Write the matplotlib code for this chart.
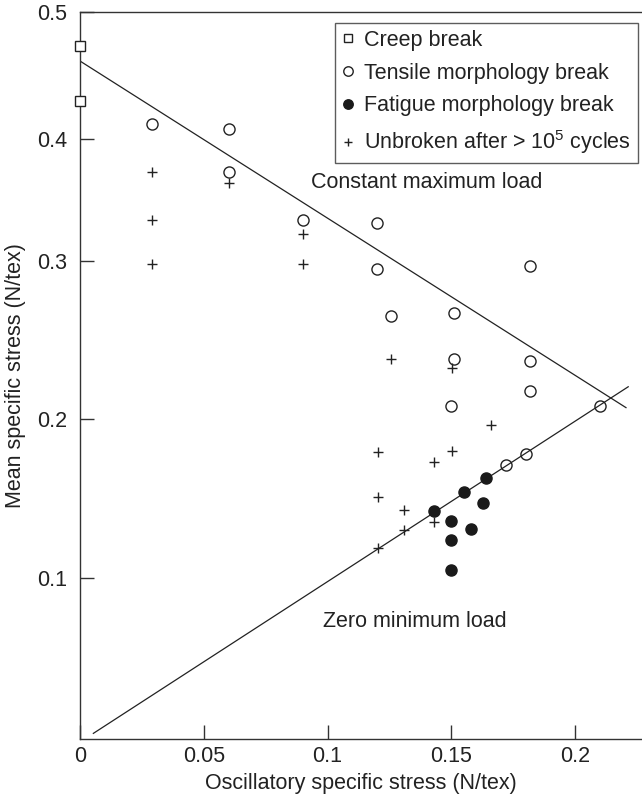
import numpy as np
import matplotlib
matplotlib.use('Agg')
import matplotlib.pyplot as plt

plt.rcParams['font.family'] = ['Liberation Sans', 'DejaVu Sans']
plt.rcParams['mathtext.fontset'] = 'custom'
plt.rcParams['mathtext.rm'] = 'Liberation Sans'
plt.rcParams['mathtext.default'] = 'regular'

# data (oscillatory stress, mean stress), N/tex
creep_x = [0.0, 0.0]
creep_y = [0.473, 0.430]

tensile_x = [0.029, 0.060, 0.060, 0.090, 0.120, 0.120, 0.1255, 0.151, 0.182,
             0.151, 0.182, 0.182, 0.150, 0.210, 0.180, 0.172]
tensile_y = [0.412, 0.408, 0.373, 0.334, 0.331, 0.295, 0.265, 0.267, 0.297,
             0.238, 0.237, 0.218, 0.208, 0.208, 0.178, 0.171]

fatigue_x = [0.143, 0.155, 0.164, 0.163, 0.150, 0.158, 0.150, 0.150]
fatigue_y = [0.142, 0.154, 0.163, 0.147, 0.136, 0.131, 0.124, 0.105]

unbroken_x = [0.029, 0.029, 0.029, 0.060, 0.090, 0.090, 0.1255, 0.1505, 0.166,
              0.1205, 0.143, 0.1505, 0.1205, 0.131, 0.131, 0.143, 0.1205]
unbroken_y = [0.373, 0.334, 0.298, 0.364, 0.322, 0.298, 0.238, 0.232, 0.196,
              0.179, 0.173, 0.180, 0.151, 0.143, 0.130, 0.135, 0.119]

# guide lines (end points)
max_load_x = [0.0, 0.2206]
max_load_y = [0.4614, 0.2072]
min_load_x = [0.0054, 0.2215]
min_load_y = [0.0035, 0.2204]

x_ticks = [0, 0.05, 0.1, 0.15, 0.2]
y_ticks = [0.1, 0.2, 0.3, 0.4, 0.5]

# the printed y axis is not evenly spaced; reproduce its spacing
y_knots = [0.0, 0.1, 0.2, 0.3, 0.4, 0.5]
y_knot_pos = [0.0, 161.0, 320.0, 478.0, 600.0, 727.0]


def y_forward(v):
    return np.interp(v, y_knots, y_knot_pos)


def y_inverse(p):
    return np.interp(p, y_knot_pos, y_knots)


txt = '#222222'
fs = 15.5
fig = plt.figure(figsize=(6.42, 7.94), dpi=100)
ax = fig.add_axes([80/642, 55/794, 562/642, 727/794])
ax.set_yscale('function', functions=(y_forward, y_inverse))

ax.plot(max_load_x, max_load_y, color='#222222', lw=0.9, zorder=1)
ax.plot(min_load_x, min_load_y, color='#222222', lw=0.9, zorder=1)

ax.plot(creep_x, creep_y, ls='none', marker='s', ms=6.5, mfc='white',
        mec='#222222', mew=1.0, clip_on=False, label='Creep break', zorder=3)
ax.plot(tensile_x, tensile_y, ls='none', marker='o', ms=8, mfc='none',
        mec='#222222', mew=1.0, label='Tensile morphology break', zorder=3)
ax.plot(fatigue_x, fatigue_y, ls='none', marker='o', ms=8, mfc='#1a1a1a',
        mec='#1a1a1a', label='Fatigue morphology break', zorder=3)
ax.plot(unbroken_x, unbroken_y, ls='none', marker='+', ms=7.5,
        mec='#222222', mew=1.0, label='Unbroken after > 10$^5$ cycles', zorder=3)

ax.text(0.0933, 0.364, 'Constant maximum load', fontsize=fs, color=txt,
        ha='left', va='center')
ax.text(0.0982, 0.0729, 'Zero minimum load', fontsize=fs, color=txt,
        ha='left', va='center')

ax.set_xlim(0, 562/2475)
ax.set_ylim(0, 0.5)
ax.set_xticks(x_ticks)
ax.set_xticklabels(['%g' % t for t in x_ticks])
ax.set_yticks(y_ticks)
ax.set_yticklabels(['%g' % t for t in y_ticks])
ax.minorticks_off()
ax.tick_params(direction='in', length=10, width=1.0, color='#333333',
               labelsize=fs, labelcolor=txt)
ax.tick_params(axis='x', pad=5)
ax.tick_params(axis='y', pad=9)
for s in ['left', 'bottom', 'top']:
    ax.spines[s].set_color('#333333')
    ax.spines[s].set_linewidth(1.0)
ax.spines['right'].set_visible(False)

ax.set_xlabel('Oscillatory specific stress (N/tex)', fontsize=fs, color=txt,
              labelpad=4)
ax.set_ylabel('Mean specific stress (N/tex)', fontsize=fs, color=txt,
              labelpad=8)

leg = ax.legend(loc='upper right', bbox_to_anchor=(0.992, 0.985), fontsize=fs,
                frameon=True, fancybox=False, handlelength=0.55,
                handletextpad=0.45, borderpad=0.32, labelspacing=0.55,
                markerscale=0.85, borderaxespad=0)
leg.get_frame().set_edgecolor('#333333')
leg.get_frame().set_linewidth(1.0)
for t in leg.get_texts():
    t.set_color(txt)

plt.savefig('out.png', dpi=100)
